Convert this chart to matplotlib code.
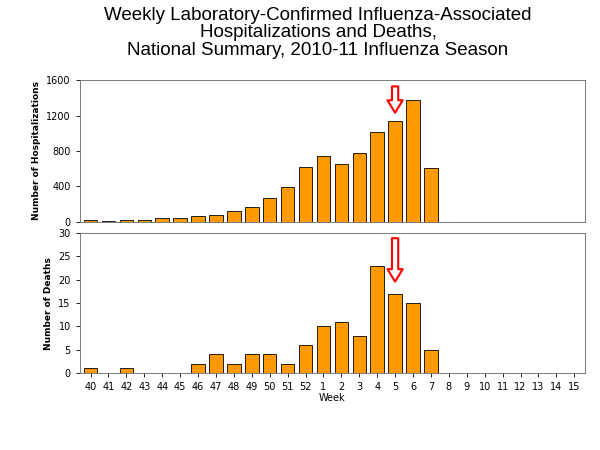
import matplotlib
matplotlib.use('Agg')
import matplotlib.pyplot as plt

weeks = ['40', '41', '42', '43', '44', '45', '46', '47', '48', '49', '50', '51', '52',
         '1', '2', '3', '4', '5', '6', '7', '8', '9', '10', '11', '12', '13', '14', '15']
hospitalizations = [20, 15, 25, 20, 45, 40, 65, 75, 120, 170, 265, 390, 615,
                    740, 650, 780, 1010, 1140, 1370, 605, 0, 0, 0, 0, 0, 0, 0, 0]
deaths = [1, 0, 1, 0, 0, 0, 2, 4, 2, 4, 4, 2, 6,
          10, 11, 8, 23, 17, 15, 5, 0, 0, 0, 0, 0, 0, 0, 0]

bar_color = '#FF9900'
x = list(range(len(weeks)))
arrow_week = weeks.index('5')

fig = plt.figure(figsize=(6, 4.5), dpi=100, facecolor='white')
fig.text(0.53, 0.985, "Weekly Laboratory-Confirmed Influenza-Associated\n"
         "Hospitalizations and Deaths,\nNational Summary, 2010-11 Influenza Season",
         ha='center', va='top', fontsize=13.5, family='Liberation Sans', linespacing=1.05)

ax1 = fig.add_axes([0.133, 0.507, 0.842, 0.315])
ax2 = fig.add_axes([0.133, 0.171, 0.842, 0.311])

for ax, vals, ymax, step, label in [(ax1, hospitalizations, 1600, 400, 'Number of Hospitalizations'),
                                    (ax2, deaths, 30, 5, 'Number of Deaths')]:
    ax.bar(x, vals, width=0.75, color=bar_color, edgecolor='black', linewidth=0.6)
    ax.set_xlim(-0.6, len(weeks) - 0.4)
    ax.set_ylim(0, ymax)
    ax.set_yticks(range(0, ymax + 1, step))
    ax.tick_params(labelsize=7, length=3, width=0.6)
    ax.set_ylabel(label, fontsize=6.5, fontweight='bold')
    for s in ax.spines.values():
        s.set_linewidth(0.6)
        s.set_color('#666666')

ax1.set_xticks(x)
ax1.set_xticklabels([])
ax1.tick_params(axis='x', length=0)
ax2.set_xticks(x)
ax2.set_xticklabels(weeks)
ax2.set_xlabel('Week', fontsize=7, labelpad=1)

arrow_props = dict(arrowstyle='simple,head_width=1.1,head_length=0.9,tail_width=0.45',
                   facecolor='white', edgecolor='red', linewidth=1.5)
ax1.annotate('', xy=(arrow_week, 1200), xytext=(arrow_week, 1560), arrowprops=arrow_props)
ax2.annotate('', xy=(arrow_week, 19), xytext=(arrow_week, 29.5), arrowprops=arrow_props)

fig.savefig('out.png', dpi=100)
